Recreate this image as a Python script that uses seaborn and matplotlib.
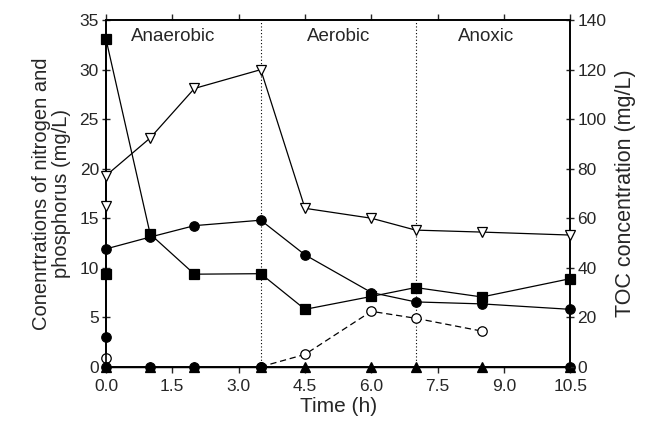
import numpy as np
import matplotlib
matplotlib.use("Agg")
import matplotlib.pyplot as plt
import seaborn as sns

# sampling times (h); t=0 appears twice (before / after feeding)
time_sq = [0, 0, 1, 2, 3.5, 4.5, 6, 7, 8.5, 10.5]
square_vals = [9.4, 33.1, 13.4, 9.35, 9.4, 5.8, 7.1, 8.0, 7.05, 8.9]

time_circ = [0, 0, 1, 2, 3.5, 4.5, 6, 7, 8.5, 10.5]
circle_vals = [3.05, 11.9, 13.1, 14.25, 14.8, 11.3, 7.5, 6.55, 6.35, 5.8]

time_open = [0, 3.5, 4.5, 6, 7, 8.5]
open_circle_vals = [0.9, 0.0, 1.25, 5.6, 4.9, 3.6]

time_zero_circ = [0, 1, 2, 3.5, 10.5]
zero_circ_vals = [0, 0, 0, 0, 0]

time_tri = [0, 1, 2, 3.5, 4.5, 6, 7, 8.5, 10.5]
tri_vals = [0, 0, 0, 0, 0, 0, 0, 0, 0]

# TOC on the right axis
time_toc = [0, 0, 1, 2, 3.5, 4.5, 6, 7, 8.5, 10.5]
toc_vals = [64.8, 77.2, 92.4, 112.4, 120.0, 64.0, 60.0, 55.2, 54.4, 53.2]

phase_bounds = [3.5, 7.0]
phase_names = ["Anaerobic", "Aerobic", "Anoxic"]
phase_pos = [1.52, 5.26, 8.6]

sns.set_style("ticks")
plt.rcParams['font.family'] = ['Liberation Sans', 'DejaVu Sans']

fig, ax = plt.subplots(figsize=(6.46, 4.28), dpi=100)
fig.subplots_adjust(left=0.164, right=0.883, top=0.953, bottom=0.143)
ax2 = ax.twinx()

line_kw = dict(color="black", linewidth=0.9, estimator=None, sort=False,
               markersize=6.8, markeredgecolor="black", markeredgewidth=0.9,
               clip_on=False, zorder=5)

sns.lineplot(x=time_sq, y=square_vals, ax=ax, marker="s",
             markerfacecolor="black", **line_kw)
sns.lineplot(x=time_circ, y=circle_vals, ax=ax, marker="o",
             markerfacecolor="black", **line_kw)
# open circles: lone point at t=0, dashed line from 3.5 h onwards
sns.lineplot(x=time_open[1:], y=open_circle_vals[1:], ax=ax, marker="o",
             markerfacecolor="white", linestyle=(0, (5, 3)), **line_kw)
sns.lineplot(x=time_open[:1], y=open_circle_vals[:1], ax=ax, marker="o",
             markerfacecolor="white", **line_kw)
sns.lineplot(x=time_tri, y=tri_vals, ax=ax, marker="^",
             markerfacecolor="black", **line_kw)
sns.lineplot(x=time_zero_circ, y=zero_circ_vals, ax=ax, marker="o",
             markerfacecolor="black", **line_kw)
sns.lineplot(x=time_toc, y=toc_vals, ax=ax2, marker="v",
             markerfacecolor="white", **line_kw)

for b in phase_bounds:
    ax.axvline(b, color="black", linestyle=(0, (1, 2)), linewidth=0.8, zorder=1)
for name, xp in zip(phase_names, phase_pos):
    ax.text(xp, 33.3, name, ha="center", va="center", fontsize=13.5)

ax.set_xlim(0, 10.5)
ax.set_ylim(0, 35)
ax2.set_ylim(0, 140)
ax.set_xticks(np.arange(0, 10.6, 1.5))
ax.set_xticklabels([f"{v:.1f}" for v in np.arange(0, 10.6, 1.5)])
ax.set_yticks(range(0, 36, 5))
ax2.set_yticks(range(0, 141, 20))

ax.set_xlabel("Time (h)", fontsize=15, labelpad=2)
ax.set_ylabel("Conenrtrations of nitrogen and\nphosphorus (mg/L)", fontsize=14.5,
              labelpad=6, linespacing=1.1)
ax2.set_ylabel("TOC concentration (mg/L)", fontsize=15.5, labelpad=6)

for a in (ax, ax2):
    for s in a.spines.values():
        s.set_visible(True)
        s.set_linewidth(1.2)
        s.set_color("black")
ax.tick_params(axis="x", direction="out", length=4, width=1, labelsize=12.5,
               top=True, pad=5)
ax.tick_params(axis="y", direction="inout", length=6, width=1, labelsize=12.5, pad=2)
ax2.tick_params(axis="y", direction="inout", length=6, width=1, labelsize=12.5, pad=2)

fig.savefig("out.png", dpi=100)
